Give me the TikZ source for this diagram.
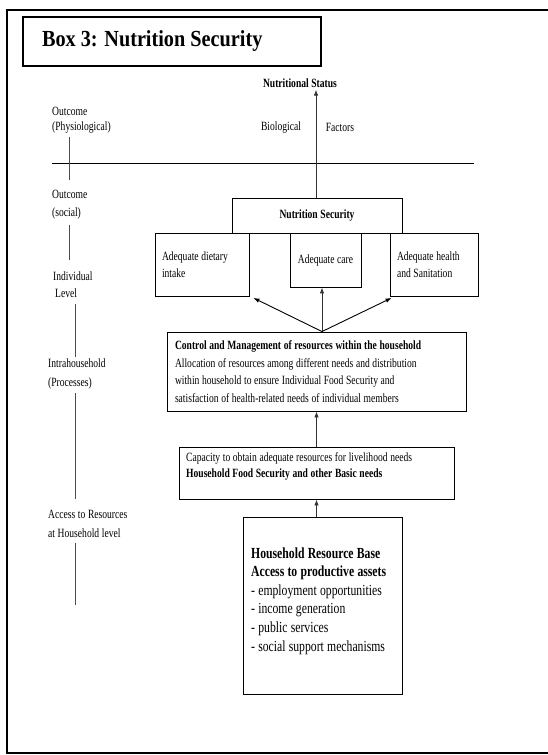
\documentclass[tikz,border=0pt]{standalone}
\usepackage{fontspec}
\setmainfont[FakeStretch=0.76,WordSpace=1.1]{Liberation Serif}
\newfontfamily\titlefont[FakeStretch=0.88]{Liberation Serif}
\usetikzlibrary{arrows.meta}
\begin{document}
\begin{tikzpicture}[x=1pt,y=-1pt,
  box/.style={draw, line width=0.9pt, inner sep=0pt},
  arr/.style={-{Latex[length=6pt,width=4.5pt]}, line width=0.9pt, draw=black!80},
  tl/.style={line width=0.8pt, draw=black!70},
  lab/.style={anchor=west, inner sep=0pt, align=flush left},
  f/.style={font=\fontsize{12.6}{#1}\selectfont},
  fb/.style={font=\fontsize{12.6}{#1}\selectfont\bfseries}]
\useasboundingbox (0,0) rectangle (547,755);
% outer frame
\draw[line width=2pt] (549,10) -- (7,10) -- (7,753) -- (549,753);
% title
\node[draw, line width=2pt, minimum width=298pt, minimum height=49pt, inner sep=0pt,
      text width=260pt, align=flush left, font=\titlefont\fontsize{23}{26}\selectfont\bfseries]
      (title) at (172,41.5) {Box 3: Nutrition Security};
% top labels
\node[fb=13, inner sep=2pt] (nstat) at (300,83) {Nutritional Status};
\node[f=13, inner sep=0pt] (bio) at (281,127) {Biological};
\node[f=13, inner sep=0pt] (fac) at (340,127) {Factors};
\draw[line width=0.9pt] (52,163) -- (474,163);
% left labels
\node[lab, f=14.5] (l1) at (52,120) {Outcome\\(Physiological)};
\node[lab, f=18] (l2) at (52,205) {Outcome\\(social)};
\node[lab, f=17] (l3) at (53,284.5) {Individual\\\hspace{2pt}Level};
\node[lab, f=19] (l4) at (48,373.5) {Intrahousehold\\(Processes)};
\node[lab, f=19] (l5) at (48,523.5) {Access to Resources\\at Household level};
\draw[tl] (69,137) -- (69,180);
\draw[tl] (69,225) -- (69,260);
\draw[tl] (75,304) -- (75,357);
\draw[tl] (75,393) -- (75,499);
\draw[tl] (75,543) -- (75,605);
% boxes
\node[box, fb=13, minimum width=170pt, minimum height=35pt] (nsec) at (317,215.5) {Nutrition Security};
\node[box, f=17, minimum width=94pt, minimum height=63pt, text width=80pt, align=flush left] (diet) at (202,264.5) {Adequate dietary\\intake};
\node[box, f=13, minimum width=71pt, minimum height=54pt] (care) at (325.5,260) {Adequate care};
\node[box, f=17, minimum width=88pt, minimum height=63pt, text width=74pt, align=flush left] (health) at (434,264.5) {Adequate health\\and Sanitation};
\node[box, f=17.6, minimum width=299pt, minimum height=79pt, text width=283pt, align=flush left] (ctrl) at (316.5,371.5)
  {\textbf{Control and Management of resources within the household}\\
   Allocation of resources among different needs and distribution\\
   within household to ensure Individual Food Security and\\
   satisfaction of health-related needs of individual members};
\node[box, minimum width=275pt, minimum height=52pt] (cap) at (316.5,473) {};
\node[f=16, anchor=base west, inner sep=0pt, align=flush left] (captxt) at (186,477)
  {Capacity to obtain adequate resources for livelihood needs\\
   \textbf{Household Food Security and other Basic needs}};
\node[box, minimum width=159pt, minimum height=177pt] (res) at (322.5,605.5) {};
\node[anchor=base west, inner sep=0pt, align=flush left, font=\fontsize{15.4}{18.6}\selectfont] (restxt) at (251,651)
  {\textbf{Household Resource Base}\\
   \textbf{Access to productive assets}\\
   - employment opportunities\\
   - income generation\\
   - public services\\
   - social support mechanisms};
% connectors
\draw[arr] (nsec.north -| 316,0) -- (nstat.south -| 316,0);
\coordinate (c1) at ([xshift=5.5pt]ctrl.north);
\draw[arr, draw=black] (c1) -- ([xshift=4pt,yshift=-1.5pt]diet.south east);
\draw[arr] (c1) -- (c1 |- care.south);
\draw[arr, draw=black] (c1) -- ([xshift=2pt,yshift=-1.5pt]health.south west);
\draw[arr] (cap.north) -- (cap.north |- ctrl.south);
\draw[arr] (res.north -| cap.south) -- (cap.south);
\end{tikzpicture}
\end{document}
